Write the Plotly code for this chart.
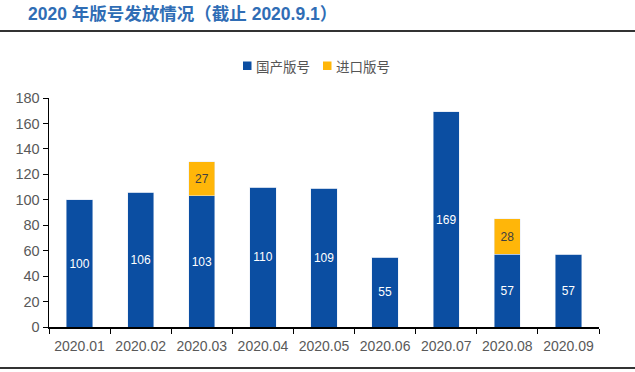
import plotly.graph_objects as go

months = ["2020.01", "2020.02", "2020.03", "2020.04", "2020.05", "2020.06", "2020.07", "2020.08", "2020.09"]
domestic = [100, 106, 103, 110, 109, 55, 169, 57, 57]
imported = [0, 0, 27, 0, 0, 0, 0, 28, 0]
y_ticks = [0, 20, 40, 60, 80, 100, 120, 140, 160, 180]
series_names = ["国产版号", "进口版号"]

BLUE = "#0B4EA2"
ORANGE = "#FFB609"
W, H = 635, 372
ML, MR, MT, MB = 49, 36, 98, 45
pw = W - ML - MR
ph = H - MT - MB

def py2p(py):
    return (H - MB - py) / ph

def px2p(px):
    return (px - ML) / pw

fig = go.Figure()
fig.add_trace(go.Bar(
    x=months, y=domestic, name=series_names[0], marker_color=BLUE,
    text=[str(v) for v in domestic], textposition="inside", insidetextanchor="middle",
    textangle=0,
    textfont=dict(color="white", size=14, family="Liberation Sans, Arial"),
    width=0.43,
))
fig.add_trace(go.Bar(
    x=months, y=imported, name=series_names[1], marker_color=ORANGE,
    text=[str(v) if v else "" for v in imported], textposition="inside", insidetextanchor="middle",
    textangle=0,
    textfont=dict(color="#404040", size=14, family="Liberation Sans, Arial"),
    width=0.43,
))

legend_y = 66
legend_items = [(243, BLUE, series_names[0]), (323, ORANGE, series_names[1])]
shapes = [
    dict(type="line", xref="paper", yref="paper",
         x0=px2p(0), x1=px2p(W), y0=py2p(31), y1=py2p(31),
         line=dict(color="#333333", width=2)),
    dict(type="line", xref="paper", yref="paper",
         x0=px2p(0), x1=px2p(W), y0=py2p(368), y1=py2p(368),
         line=dict(color="#333333", width=2)),
]
annotations = [
    dict(text="<b>2020 年版号发放情况（截止 2020.9.1）</b>", xref="paper", yref="paper",
         x=px2p(26), y=py2p(14), xanchor="left", yanchor="middle",
         showarrow=False, font=dict(size=17.5, color="#2F6DB5", family="Liberation Sans, Noto Sans CJK SC")),
]
for lx, col, name in legend_items:
    shapes.append(dict(type="rect", xref="paper", yref="paper",
                       x0=px2p(lx), x1=px2p(lx + 8.5), y0=py2p(legend_y - 4.5), y1=py2p(legend_y + 4),
                       fillcolor=col, line=dict(width=0)))
    annotations.append(dict(text=name, xref="paper", yref="paper",
                            x=px2p(lx + 11), y=py2p(legend_y), xanchor="left", yanchor="middle",
                            showarrow=False,
                            font=dict(size=13.5, color="#555555", family="Noto Sans CJK SC")))

fig.update_layout(
    barmode="stack",
    width=W, height=H,
    margin=dict(l=ML, r=MR, t=MT, b=MB),
    plot_bgcolor="white", paper_bgcolor="white",
    showlegend=False,
    hovermode=False,
    uniformtext=dict(minsize=8, mode="show"),
    xaxis=dict(
        showline=True, linecolor="black", linewidth=1.5,
        ticks="outside", ticklen=5, tickcolor="black", tickson="boundaries",
        tickfont=dict(size=14, color="#595959", family="Liberation Sans, Arial"),
        ticklabelstandoff=6,
        range=[-0.5, 8.5],
    ),
    yaxis=dict(
        range=[0, 180], tickvals=y_ticks, showgrid=False, zeroline=False,
        showline=True, linecolor="black", linewidth=1.5,
        ticks="outside", ticklen=5, tickcolor="black",
        tickfont=dict(size=14.5, color="#595959", family="Liberation Sans, Arial"),
    ),
    shapes=shapes,
    annotations=annotations,
)

fig.write_html("out.html", config={"displayModeBar": False, "staticPlot": True},
               post_script="document.body.style.margin='0';")
